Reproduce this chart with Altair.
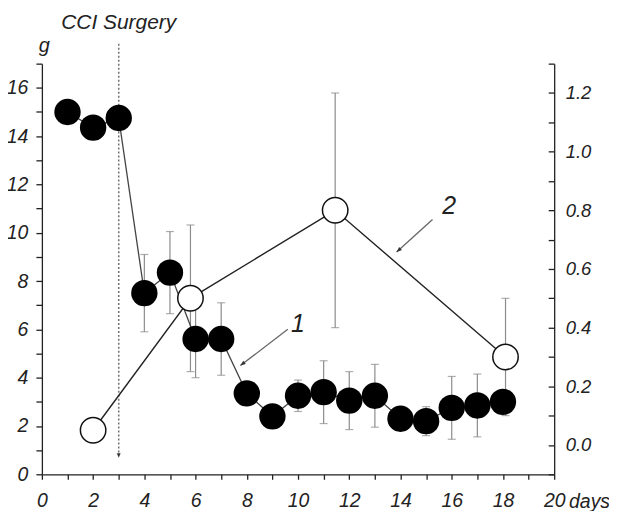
import altair as alt
import pandas as pd

# ---- data ----
days = list(range(1, 19))
weight = [15.0, 14.35, 14.75, 7.5, 8.35, 5.6, 5.6, 3.35, 2.4, 3.25, 3.4, 3.05,
          3.25, 2.3, 2.2, 2.75, 2.85, 3.0]
weight_sd = [0.3, 0.3, 0.3, 1.6, 1.7, 1.6, 1.5, 0.4, 0.3, 0.65, 1.3, 1.2,
             1.3, 0.4, 0.6, 1.3, 1.3, 0.4]

ratio_days = [2.0, 5.8, 11.45, 18.1]
ratio = [0.05, 0.50, 0.80, 0.30]
ratio_sd = [0.03, 0.25, 0.40, 0.20]

surgery_day = 3
surgery_label = "CCI Surgery"

x_ticks = list(range(0, 21))
left_ticks = list(range(0, 18))
right_ticks = [-0.1, 0.0, 0.1, 0.2, 0.3, 0.4, 0.5, 0.6, 0.7, 0.8, 0.9, 1.0, 1.1, 1.2, 1.3]

ann_text = ["1", "2"]
ann_x = [10.0, 15.9]
ann_y = [6.2, 11.1]
arr_x1 = [9.6, 15.25]
arr_y1 = [6.0, 10.55]
arr_x2 = [7.75, 13.85]
arr_y2 = [4.5, 9.2]
arr_angle = [232, 228]

# ---- tables ----
dfW = pd.DataFrame({"x": days, "y": weight,
                    "lo": [m - s for m, s in zip(weight, weight_sd)],
                    "hi": [m + s for m, s in zip(weight, weight_sd)]})
dfWcap = pd.concat([dfW[["x", "lo"]].rename(columns={"lo": "y"}),
                    dfW[["x", "hi"]].rename(columns={"hi": "y"})])
dfR = pd.DataFrame({"x": ratio_days, "y": ratio,
                    "lo": [m - s for m, s in zip(ratio, ratio_sd)],
                    "hi": [m + s for m, s in zip(ratio, ratio_sd)]})
dfRcap = pd.concat([dfR[["x", "lo"]].rename(columns={"lo": "y"}),
                    dfR[["x", "hi"]].rename(columns={"hi": "y"})])
dfSurg = pd.DataFrame({"x": [surgery_day], "y": [17.82], "y2": [0.9],
                       "head": [0.68], "ty": [18.43], "t": [surgery_label]})
dfAnn = pd.DataFrame({"x": ann_x, "y": ann_y, "t": ann_text,
                      "x1": arr_x1, "y1": arr_y1, "x2": arr_x2, "y2": arr_y2,
                      "angle": arr_angle})

FONT = "Liberation Sans"
INK = "#222222"
LBL = 19.5

xaxis = alt.Axis(values=x_ticks, labelExpr="datum.value % 2 == 0 ? datum.label : ''",
                 tickSize=5, labelPadding=12, grid=False, labelFlush=False,
                 labelOverlap=False, labelFont=FONT, labelFontStyle="italic",
                 labelFontSize=LBL, labelColor=INK, domainColor=INK, tickColor=INK,
                 domainWidth=1.3, tickWidth=1.3,
                 title="days", titleX=549, titleY=33, titleAlign="center",
                 titleBaseline="alphabetic", titleFont=FONT, titleFontStyle="italic",
                 titleFontWeight="normal", titleFontSize=LBL, titleColor=INK)
xscale = alt.Scale(domain=[0, 20], nice=False, zero=False)


def X(field="x"):
    return alt.X(field, type="quantitative", scale=xscale, axis=xaxis)


lscale = dict(domain=[0, 17], nice=False, zero=False)
rscale = dict(domain=[-0.1, 1.3], nice=False, zero=False)


def YL(field="y", axis=None):
    return alt.Y(field, type="quantitative", scale=alt.Scale(**lscale), axis=axis)


def YR(field="y", axis=None):
    return alt.Y(field, type="quantitative", scale=alt.Scale(**rscale), axis=axis)


left_axis = alt.Axis(orient="left", values=left_ticks,
                     labelExpr="datum.value % 2 == 0 ? datum.label : ''",
                     tickSize=6, labelPadding=8, grid=False, labelOverlap=False,
                     labelFlush=False, labelFont=FONT, labelFontStyle="italic",
                     labelFontSize=LBL, labelColor=INK, domainColor=INK, tickColor=INK,
                     domainWidth=1.3, tickWidth=1.3,
                     title="g", titleAngle=0, titleX=2, titleY=-12, titleAlign="center",
                     titleBaseline="alphabetic", titleFont=FONT, titleFontStyle="italic",
                     titleFontWeight="normal", titleFontSize=20, titleColor=INK)

right_tick_axis = alt.Axis(orient="left", offset=-514, values=right_ticks, labels=False,
                           tickSize=6, grid=False, title=None, domainColor=INK,
                           tickColor=INK, domainWidth=1.3, tickWidth=1.3)

right_label_axis = alt.Axis(orient="right", values=right_ticks, ticks=False, domain=False,
                            format=".1f",
                            labelExpr="(datum.value > -0.05 && abs(round(datum.value*10)) % 2 == 0) ? datum.label : ''",
                            labelPadding=11, grid=False, labelOverlap=False,
                            labelFlush=False, labelFont=FONT, labelFontStyle="italic",
                            labelFontSize=18.5, labelColor=INK, title=None)

ERR = "#8c8c8c"

surg_line = alt.Chart(dfSurg).mark_rule(color="#777777", strokeDash=[2, 2], strokeWidth=1.6).encode(
    x=X(), y=YL("y"), y2=alt.Y2("y2"))
surg_head = alt.Chart(dfSurg).mark_point(shape="M0,0L-0.4,-1L0.4,-1Z", filled=True, opacity=1,
                                          color="#333333", size=90).encode(x=X(), y=YL("head"))
surg_text = alt.Chart(dfSurg).mark_text(font=FONT, fontStyle="italic", fontSize=21, color=INK,
                                        baseline="alphabetic", align="center").encode(
    x=X(), y=YL("ty"), text="t:N")

w_err = alt.Chart(dfW).mark_rule(color=ERR, strokeWidth=1.2).encode(x=X(), y=YL("lo"), y2=alt.Y2("hi"))
w_cap = alt.Chart(dfWcap).mark_tick(color=ERR, orient="horizontal", size=8, thickness=1.2).encode(
    x=X(), y=YL("y"))
r_err = alt.Chart(dfR).mark_rule(color=ERR, strokeWidth=1.2).encode(x=X(), y=YR("lo"), y2=alt.Y2("hi"))
r_cap = alt.Chart(dfRcap).mark_tick(color=ERR, orient="horizontal", size=8, thickness=1.2).encode(
    x=X(), y=YR("y", axis=right_tick_axis))

w_line = alt.Chart(dfW).mark_line(color="#444444", strokeWidth=1.3).encode(x=X(), y=YL("y"))
r_line = alt.Chart(dfR).mark_line(color="#222222", strokeWidth=1.4).encode(x=X(), y=YR("y"))

w_pts = alt.Chart(dfW).mark_point(shape="circle", filled=True, color="#000000", opacity=1,
                                   size=700).encode(x=X(), y=YL("y", axis=left_axis))
r_pts = alt.Chart(dfR).mark_point(shape="circle", filled=True, fill="#ffffff", stroke="#111111",
                                   strokeWidth=1.5, opacity=1, size=650).encode(
    x=X(), y=YR("y", axis=right_label_axis))

ann_line = alt.Chart(dfAnn).mark_rule(color="#666666", strokeWidth=1.3).encode(
    x=X("x1"), y=YL("y1"), x2=alt.X2("x2"), y2=alt.Y2("y2"))
ann_head = alt.Chart(dfAnn).mark_point(shape="M0,0L0.4,1L-0.4,1Z", filled=True, opacity=1,
                                        color="#333333", size=110).encode(
    x=X("x2"), y=YL("y2"), angle=alt.Angle("angle:Q", scale=None))
ann_text_mark = alt.Chart(dfAnn).mark_text(font=FONT, fontStyle="italic", fontSize=25, color=INK,
                                           baseline="middle", align="center").encode(
    x=X(), y=YL("y"), text="t:N")

chart = alt.layer(
    surg_line, w_err, w_cap, r_err, r_cap, w_line, r_line, w_pts, r_pts,
    surg_head, surg_text, ann_line, ann_head, ann_text_mark
).resolve_scale(y="independent").properties(
    width=514, height=412,
    autosize=alt.AutoSizeParams(type="none"),
    padding={"left": 34, "top": 55, "right": 55, "bottom": 36},
).configure_view(stroke=None)

chart.save("out.html", embed_options={"renderer": "svg", "actions": False})
